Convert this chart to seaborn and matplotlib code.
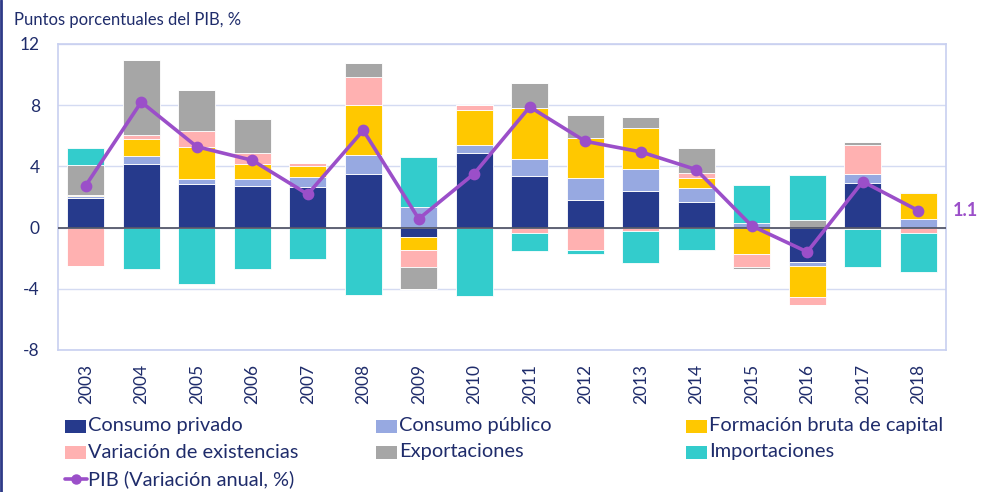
import matplotlib.pyplot as plt
import numpy as np
import seaborn as sns
from matplotlib.lines import Line2D
from matplotlib.patches import Rectangle

years = [str(y) for y in range(2003, 2019)]
consumo_privado = [1.96, 4.18, 2.83, 2.75, 2.68, 3.51, -0.63, 4.90, 3.40, 1.83, 2.42, 1.68, 0.0, -2.24, 2.92, 0.0]
consumo_publico = [0.10, 0.52, 0.37, 0.41, 0.61, 1.22, 1.33, 0.52, 1.11, 1.44, 1.42, 0.94, 0.30, -0.24, 0.59, 0.57]
formacion = [0.07, 1.07, 2.09, 1.02, 0.76, 3.29, -0.83, 2.24, 3.31, 2.59, 2.68, 0.65, -1.72, -2.03, -0.10, 1.66]
variacion = [-2.48, 0.28, 1.02, 0.70, 0.20, 1.83, -1.11, 0.33, -0.35, -1.46, -0.20, 0.28, -0.87, -0.54, 1.90, -0.33]
exportaciones = [1.98, 4.88, 2.66, 2.24, 0.0, 0.94, -1.46, 0.0, 1.61, 1.50, 0.70, 1.68, -0.13, 0.52, 0.17, 0.09]
importaciones = [1.07, -2.70, -3.70, -2.70, -2.07, -4.42, 3.27, -4.47, -1.18, -0.28, -2.09, -1.46, 2.51, 2.94, -2.48, -2.55]
pib = [2.75, 8.21, 5.29, 4.40, 2.18, 6.36, 0.57, 3.53, 7.89, 5.64, 4.95, 3.79, 0.11, -1.59, 3.01, 1.11]

components = [
    ("Consumo privado", consumo_privado, "#263A8C"),
    ("Consumo público", consumo_publico, "#97A9E1"),
    ("Formación bruta de capital", formacion, "#FFC800"),
    ("Variación de existencias", variacion, "#FFB1B1"),
    ("Exportaciones", exportaciones, "#A6A6A6"),
    ("Importaciones", importaciones, "#33CCCC"),
]
PURPLE = "#9B4FC9"
NAVY = "#1F2C6B"

sns.set_style("white")
plt.rcParams["font.family"] = ["Lato", "DejaVu Sans"]
plt.rcParams["axes.unicode_minus"] = False

W, H = 981, 492
fig = plt.figure(figsize=(W / 100, H / 100), dpi=100)
ax = fig.add_axes([58 / W, 1 - 350 / H, (946 - 58) / W, (350 - 44) / H])


def fx(px):
    return px / W


def fy(py):
    return 1 - py / H


n = len(years)
pos_bottom = np.zeros(n)
neg_bottom = np.zeros(n)
for name, vals, color in components:
    v = np.array(vals)
    pos = np.where(v > 0, v, 0.0)
    neg = np.where(v < 0, v, 0.0)
    sns.barplot(x=years, y=pos, bottom=pos_bottom, color=color, saturation=1, width=0.67,
                edgecolor="white", linewidth=0.6, errorbar=None, ax=ax)
    sns.barplot(x=years, y=neg, bottom=neg_bottom, color=color, saturation=1, width=0.67,
                edgecolor="white", linewidth=0.6, errorbar=None, ax=ax)
    pos_bottom += pos
    neg_bottom += neg

ax.axhline(0, color="#55586A", lw=1.3, zorder=3)
sns.pointplot(x=years, y=pib, color=PURPLE, markers="o", markersize=6.5, linewidth=2.6,
              errorbar=None, ax=ax, zorder=5)
ax.annotate("1.1", xy=(n - 1, pib[-1]), xytext=(fx(953), fy(211)), textcoords="figure fraction",
            color=PURPLE, fontsize=13, fontweight="bold", va="center", ha="left")

ax.set_xlim(-0.5, n - 0.5)
ax.set_ylim(-8, 12)
ax.set_yticks([-8, -4, 0, 4, 8, 12])
ax.yaxis.grid(True, color="#D4DBF2", lw=1)
ax.set_axisbelow(True)
for s in ax.spines.values():
    s.set_color("#C8D0F0")
    s.set_linewidth(1.2)
ax.tick_params(axis="y", length=0, pad=13, labelsize=12.5, labelcolor=NAVY)
ax.tick_params(axis="x", length=0, pad=10, labelsize=12.5, labelcolor=NAVY, rotation=90)
ax.set_xlabel("")
ax.set_ylabel("")

fig.text(fx(14), fy(20), "Puntos porcentuales del PIB, %", fontsize=12, color=NAVY, va="center")

# legend drawn by hand to keep the original column spacing
cols = [65, 376, 686]
rows = [426, 452, 479]
for i, (name, vals, color) in enumerate(components):
    cx = cols[i % 3]
    cy = rows[i // 3]
    fig.patches.append(Rectangle((fx(cx), fy(cy + 6.5)), 21 / W, 13 / H, transform=fig.transFigure,
                                 facecolor=color, edgecolor="none"))
    fig.text(fx(cx + 23), fy(cy), name, fontsize=14.4, color=NAVY, va="center")
fig.lines.append(Line2D([fx(65), fx(87)], [fy(479), fy(479)], transform=fig.transFigure,
                        color=PURPLE, lw=2.6))
fig.lines.append(Line2D([fx(76)], [fy(479)], transform=fig.transFigure, color=PURPLE,
                        marker="o", markersize=6.5, lw=0))
fig.text(fx(88), fy(479), "PIB (Variación anual, %)", fontsize=14.4, color=NAVY, va="center")

# thin frame line at the left edge of the picture
fig.lines.append(Line2D([fx(1), fx(1)], [0, 1], transform=fig.transFigure, color="#2E3A87", lw=2))

fig.savefig("out.png", dpi=100)
